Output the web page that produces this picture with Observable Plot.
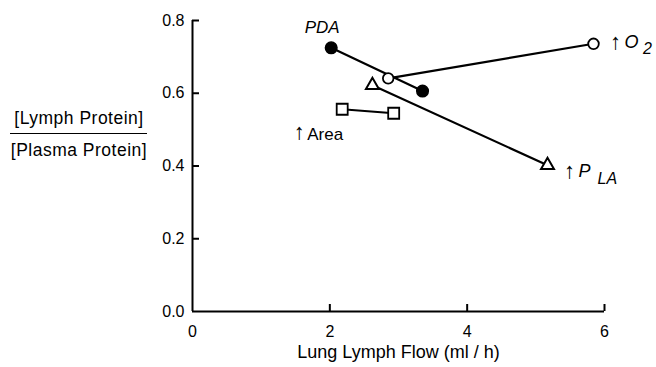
<!DOCTYPE html>
<html>
<head>
<meta charset="utf-8">
<script src="https://cdn.jsdelivr.net/npm/d3@7"></script>
<script src="https://cdn.jsdelivr.net/npm/@observablehq/plot@0.6"></script>
<style>
  html, body { margin: 0; padding: 0; background: #fff; }
  #wrap { position: relative; width: 656px; height: 367px; font-family: "Liberation Sans", Arial, sans-serif; color: #000; }
  .ylab { position: absolute; left: 4px; width: 150px; text-align: center; font-size: 17.5px; letter-spacing: 0.5px; line-height: 20px; white-space: nowrap; }
  .ybar { position: absolute; left: 10px; width: 137px; top: 133px; border-top: 1.6px solid #000; }
</style>
</head>
<body>
<div id="wrap"></div>
<script>
// ---- data ----
const xTicks = [0, 2, 4, 6];
const yTicks = [0, 0.2, 0.4, 0.6, 0.8];
const xLabel = "Lung Lymph Flow (ml / h)";
const yLabelTop = "[Lymph Protein]";
const yLabelBottom = "[Plasma Protein]";

const pda  = [{x: 2.02, y: 0.725}, {x: 3.35, y: 0.606}];
const o2   = [{x: 2.85, y: 0.641}, {x: 5.84, y: 0.736}];
const pla  = [{x: 2.62, y: 0.622}, {x: 5.17, y: 0.402}];
const area = [{x: 2.18, y: 0.556}, {x: 2.93, y: 0.545}];

// ---- layout ----
const W = 656, H = 367;
const mL = 192, mR = 52, mT = 20, mB = 56;
const frameW = W - mL - mR, frameH = H - mT - mB;
const font = "Liberation Sans, Arial, sans-serif";
const lw = 2.2;
const arrowSize = 22;

const chart = Plot.plot({
  width: W, height: H,
  marginLeft: mL, marginRight: mR, marginTop: mT, marginBottom: mB,
  x: {domain: [0, 6]},
  y: {domain: [0, 0.8]},
  style: {fontFamily: font, fontSize: "16px", color: "#000", background: "#fff", overflow: "visible"},
  marks: [
    Plot.axisX(xTicks, {tickSize: 0, tickPadding: 14, label: null, fontSize: 16}),
    Plot.axisY(yTicks, {tickSize: 0, tickPadding: 8, tickFormat: d3.format(".1f"), label: null, fontSize: 16}),
    Plot.ruleX([0], {stroke: "#000", strokeWidth: 2}),
    Plot.ruleY([0], {stroke: "#000", strokeWidth: 2}),
    Plot.ruleX(xTicks.slice(1), {x: d => d, insetTop: frameH - 7, stroke: "#000", strokeWidth: 2}),
    Plot.ruleY(yTicks.slice(1), {y: d => d, insetRight: frameW - 7, stroke: "#000", strokeWidth: 2}),
    Plot.text([xLabel], {frameAnchor: "bottom", dy: 46, fontSize: 18, text: d => d}),

    Plot.line(pda,  {x: "x", y: "y", stroke: "#000", strokeWidth: lw}),
    Plot.line(o2,   {x: "x", y: "y", stroke: "#000", strokeWidth: lw}),
    Plot.line(pla,  {x: "x", y: "y", stroke: "#000", strokeWidth: lw}),
    Plot.line(area, {x: "x", y: "y", stroke: "#000", strokeWidth: lw}),

    Plot.dot(pda,  {x: "x", y: "y", r: 5.8, fill: "#000", stroke: "#000"}),
    Plot.dot(o2,   {x: "x", y: "y", r: 5.3, fill: "#fff", stroke: "#000", strokeWidth: 1.8}),
    Plot.dot(pla,  {x: "x", y: "y", symbol: "triangle", r: 4.8, fill: "#fff", stroke: "#000", strokeWidth: 2}),
    Plot.dot(area, {x: "x", y: "y", symbol: "square", r: 6.2, fill: "#fff", stroke: "#000", strokeWidth: 1.8}),

    // annotations
    Plot.text([pda[0]], {x: "x", y: "y", text: () => "PDA", dx: -9, dy: -20, fontStyle: "italic", fontSize: 17}),

    Plot.text([o2[1]], {x: "x", y: "y", text: () => "↑", dx: 22, dy: -2, fontSize: arrowSize}),
    Plot.text([o2[1]], {x: "x", y: "y", text: () => "O", dx: 38, dy: -2, fontStyle: "italic", fontSize: 18}),
    Plot.text([o2[1]], {x: "x", y: "y", text: () => "2", dx: 54, dy: 5, fontStyle: "italic", fontSize: 16}),

    Plot.text([pla[1]], {x: "x", y: "y", text: () => "↑", dx: 22, dy: 6, fontSize: arrowSize}),
    Plot.text([pla[1]], {x: "x", y: "y", text: () => "P", dx: 37, dy: 6, fontStyle: "italic", fontSize: 18}),
    Plot.text([pla[1]], {x: "x", y: "y", text: () => "LA", dx: 50, dy: 14, textAnchor: "start", fontStyle: "italic", fontSize: 16}),

    Plot.text([area[0]], {x: "x", y: "y", text: () => "↑", dx: -43, dy: 23, fontSize: arrowSize}),
    Plot.text([area[0]], {x: "x", y: "y", text: () => "Area", dx: -35, dy: 25, textAnchor: "start", fontSize: 17})
  ]
});

const wrap = document.getElementById("wrap");
wrap.appendChild(chart);
chart.style.position = "absolute";
chart.style.left = "0";
chart.style.top = "0";

const t1 = document.createElement("div");
t1.className = "ylab"; t1.style.top = "108px"; t1.textContent = yLabelTop;
const bar = document.createElement("div");
bar.className = "ybar";
const t2 = document.createElement("div");
t2.className = "ylab"; t2.style.top = "140px"; t2.textContent = yLabelBottom;
wrap.append(t1, bar, t2);
</script>
</body>
</html>
